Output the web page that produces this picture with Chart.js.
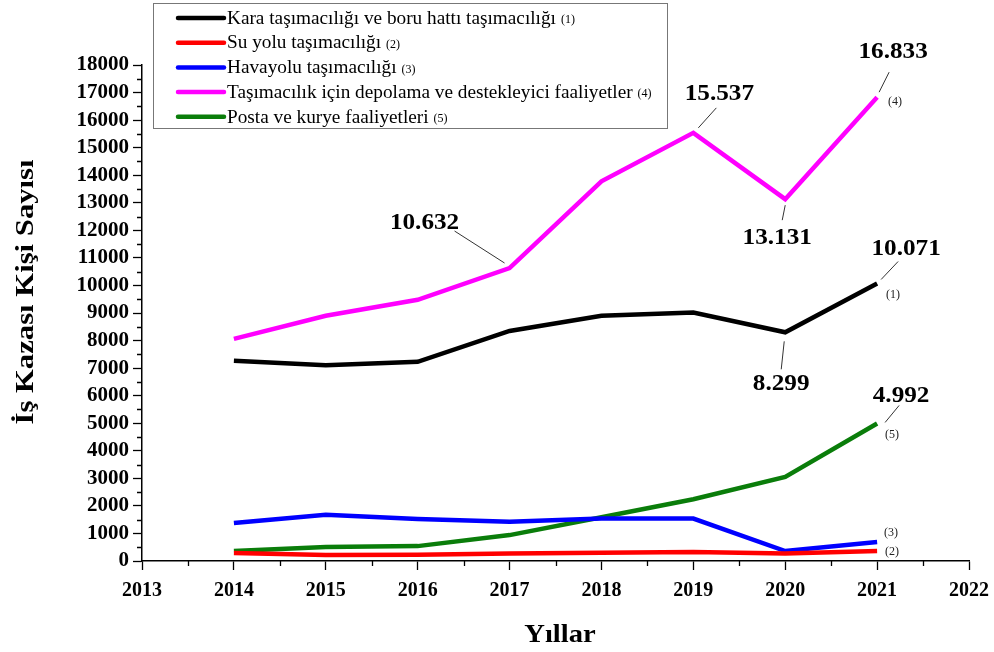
<!DOCTYPE html>
<html>
<head>
<meta charset="utf-8">
<script src="https://cdn.jsdelivr.net/npm/chart.js@4.4.0/dist/chart.umd.min.js"></script>
<style>
    html, body { margin: 0; padding: 0; background: #fff; }
</style>
</head>
<body>
<canvas id="chart-line" width="994" height="652"></canvas>
<script>
// data
const years = [2014, 2015, 2016, 2017, 2018, 2019, 2020, 2021];
const kara = [7270, 7100, 7230, 8350, 8900, 9020, 8299, 10071];
const suYolu = [290, 220, 230, 270, 300, 330, 270, 360];
const havayolu = [1380, 1680, 1520, 1420, 1540, 1540, 360, 690];
const depolama = [8060, 8900, 9480, 10632, 13780, 15537, 13131, 16833];
const posta = [360, 510, 540, 940, 1590, 2240, 3050, 4992];

const seriesNames = [
    "Kara taşımacılığı ve boru hattı taşımacılığı",
    "Su yolu taşımacılığı",
    "Havayolu taşımacılığı",
    "Taşımacılık için depolama ve destekleyici faaliyetler",
    "Posta ve kurye faaliyetleri"
];
const seriesTags = ["(1)", "(2)", "(3)", "(4)", "(5)"];
const seriesColors = ["#000000", "#ff0000", "#0000ff", "#ff00ff", "#0a7d0a"];

const yTitle = "İş Kazası Kişi Sayısı";
const xTitle = "Yıllar";

const FONT = "'Liberation Serif', 'Times New Roman', serif";

// value callouts: dataset, point index, label offset, leader line offsets
const callouts = [
    { ds: 3, i: 3, lx: -85, ly: -45, a: [-5, -5], b: [-55, -37] },
    { ds: 3, i: 5, lx: 26, ly: -39, a: [5, -5], b: [23, -25] },
    { ds: 3, i: 6, lx: -8, ly: 39, a: [0, 6], b: [-3, 21] },
    { ds: 3, i: 7, lx: 16, ly: -45, a: [2, -5], b: [12, -25] },
    { ds: 0, i: 6, lx: -4, ly: 51, a: [-1, 9], b: [-4, 37] },
    { ds: 0, i: 7, lx: 29, ly: -35, a: [4, -4], b: [21, -22] },
    { ds: 4, i: 7, lx: 24, ly: -28, a: [8, -1], b: [22, -18] }
];
// small (n) tags at the end of each line
const tagOffsets = [[9, 11], [8, 1], [7, -9], [11, 5], [8, 11]];

function fmt(v) {
    return String(v).replace(/\B(?=(\d{3})+(?!\d))/g, ".");
}

// draw text a bit wider than the font gives, like the stretched original
function wideText(ctx, text, x, y, sx) {
    ctx.save();
    ctx.translate(x, y);
    ctx.scale(sx, 1);
    ctx.fillText(text, 0, 0);
    ctx.restore();
}

const allSeries = [kara, suYolu, havayolu, depolama, posta];

const decorPlugin = {
    id: "decor",
    afterDraw(chart) {
        const ctx = chart.ctx;
        const xs = chart.scales.x, ys = chart.scales.y;
        const area = chart.chartArea;
        ctx.save();

        // minor ticks
        ctx.strokeStyle = "#000";
        ctx.lineWidth = 1.3;
        ctx.beginPath();
        for (let v = 500; v < 18000; v += 1000) {
            const py = Math.round(ys.getPixelForValue(v)) + 0.5;
            ctx.moveTo(area.left, py);
            ctx.lineTo(area.left - 5, py);
        }
        for (let v = 2013.5; v < 2022; v += 1) {
            const px = Math.round(xs.getPixelForValue(v)) + 0.5;
            ctx.moveTo(px, area.bottom);
            ctx.lineTo(px, area.bottom + 5);
        }
        ctx.stroke();

        // callouts
        ctx.font = "bold 24px " + FONT;
        ctx.textAlign = "center";
        ctx.textBaseline = "middle";
        callouts.forEach(c => {
            const px = xs.getPixelForValue(years[c.i]);
            const py = ys.getPixelForValue(allSeries[c.ds][c.i]);
            ctx.strokeStyle = "#333";
            ctx.lineWidth = 1;
            ctx.beginPath();
            ctx.moveTo(px + c.a[0], py + c.a[1]);
            ctx.lineTo(px + c.b[0], py + c.b[1]);
            ctx.stroke();
            ctx.fillStyle = "#000";
            wideText(ctx, fmt(allSeries[c.ds][c.i]), px + c.lx, py + c.ly, 1.05);
        });

        // end tags
        ctx.font = "12px " + FONT;
        ctx.textAlign = "left";
        ctx.fillStyle = "#222";
        allSeries.forEach((s, k) => {
            const last = s.length - 1;
            const px = xs.getPixelForValue(years[last]);
            const py = ys.getPixelForValue(s[last]);
            ctx.fillText(seriesTags[k], px + tagOffsets[k][0], py + tagOffsets[k][1]);
        });

        // legend box
        ctx.strokeStyle = "#777";
        ctx.lineWidth = 1;
        ctx.strokeRect(153.5, 3.5, 514, 125);
        seriesNames.forEach((name, k) => {
            const ly = 18 + k * 24.7;
            ctx.strokeStyle = seriesColors[k];
            ctx.lineWidth = 4.5;
            ctx.lineCap = "round";
            ctx.beginPath();
            ctx.moveTo(178, ly);
            ctx.lineTo(224, ly);
            ctx.stroke();
            ctx.fillStyle = "#000";
            ctx.font = "18px " + FONT;
            const w = ctx.measureText(name).width * 1.07;
            wideText(ctx, name, 227, ly + 1, 1.07);
            ctx.font = "12px " + FONT;
            ctx.fillText(seriesTags[k], 227 + w + 5, ly + 2);
        });

        // axis titles
        ctx.fillStyle = "#000";
        ctx.font = "bold 26px " + FONT;
        ctx.textAlign = "center";
        wideText(ctx, xTitle, 560, 635, 1.1);
        ctx.translate(26, 292);
        ctx.rotate(-Math.PI / 2);
        wideText(ctx, yTitle, 0, 0, 1.18);

        ctx.restore();
    }
};

const ctx1 = document.getElementById("chart-line").getContext("2d");

new Chart(ctx1, {
    type: "line",
    data: {
        datasets: allSeries.map((s, k) => ({
            label: seriesNames[k],
            data: years.map((yr, i) => ({ x: yr, y: s[i] })),
            borderColor: seriesColors[k],
            backgroundColor: seriesColors[k],
            borderWidth: 4.5,
            pointRadius: 0,
            tension: 0,
            fill: false,
            borderJoinStyle: "miter"
        }))
    },
    options: {
        responsive: false,
        animation: false,
        layout: {
            padding: { top: 65, right: 25, left: 0, bottom: 0 }
        },
        plugins: {
            legend: { display: false },
            tooltip: { enabled: false }
        },
        scales: {
            x: {
                type: "linear",
                min: 2013,
                max: 2022,
                afterFit: function (scale) {
                    scale.height = 91;
                    scale.paddingLeft = 0;
                    scale.paddingRight = 0;
                },
                border: { color: "#000", width: 1.5 },
                grid: {
                    display: true,
                    drawOnChartArea: false,
                    drawTicks: true,
                    tickLength: 9,
                    tickColor: "#000",
                    tickWidth: 1.3
                },
                ticks: {
                    stepSize: 1,
                    autoSkip: false,
                    padding: 9,
                    color: "#000",
                    maxRotation: 0,
                    callback: function (v) { return String(v); },
                    font: { family: FONT, size: 20, weight: "bold" }
                }
            },
            y: {
                min: 0,
                max: 18000,
                afterFit: function (scale) { scale.width = 142; },
                border: { color: "#000", width: 1.5 },
                grid: {
                    display: true,
                    drawOnChartArea: false,
                    drawTicks: true,
                    tickLength: 9,
                    tickColor: "#000",
                    tickWidth: 1.3
                },
                ticks: {
                    stepSize: 1000,
                    autoSkip: false,
                    padding: 4,
                    color: "#000",
                    callback: function (v) { return String(v); },
                    font: { family: FONT, size: 21, weight: "bold" }
                }
            }
        }
    },
    plugins: [decorPlugin]
});
</script>
</body>
</html>
